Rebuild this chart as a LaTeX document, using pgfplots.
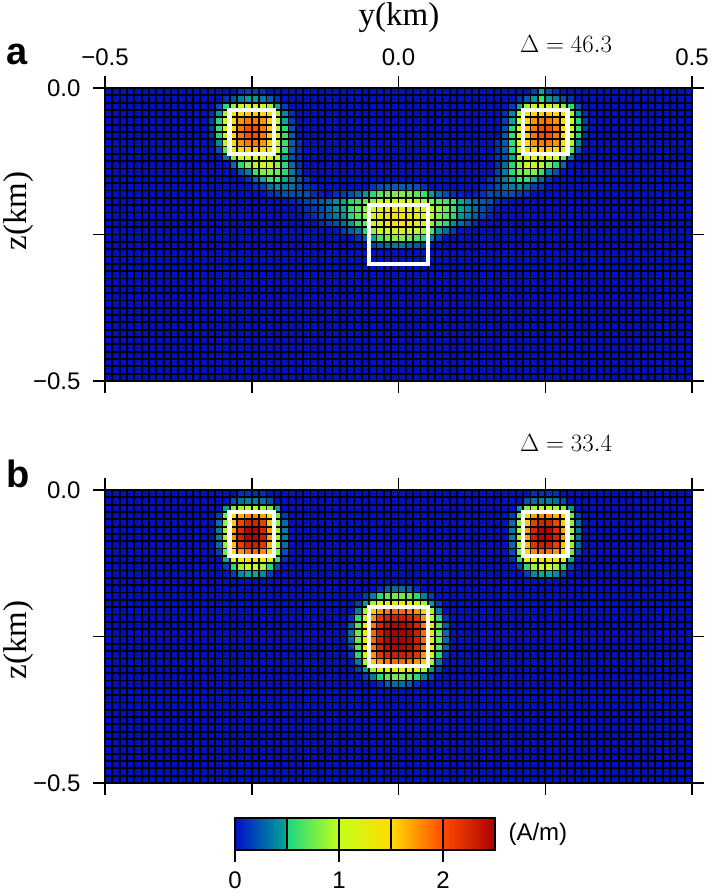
\documentclass[border=0pt]{standalone}
\usepackage{pgfplots}
\pgfplotsset{compat=1.18}
\usepackage{fontspec}
\setmainfont{Liberation Sans}
\newfontfamily\serif{Liberation Serif}
\definecolor{bgblue}{RGB}{0,15,200}
\definecolor{cA}{RGB}{0,15,200}
\definecolor{cB}{RGB}{0,170,150}
\definecolor{cC}{RGB}{25,215,130}
\definecolor{cD}{RGB}{195,255,25}
\definecolor{cE}{RGB}{255,220,0}
\definecolor{cF}{RGB}{255,75,0}
\definecolor{cG}{RGB}{170,0,0}
\pgfplotsset{
  colormap={gmtjet}{rgb255(0pt)=(0,15,200); rgb255(50pt)=(0,170,150); rgb255(51pt)=(25,215,130); rgb255(100pt)=(195,255,25); rgb255(150pt)=(255,220,0); rgb255(200pt)=(255,75,0); rgb255(250pt)=(170,0,0)},
  panel/.style={
    scale only axis, width=587pt, height=293pt,
    anchor=south west,
    xmin=-0.5, xmax=0.5, ymin=-0.5, ymax=0,
    xtick={-0.5,-0.25,0,0.25,0.5},
    ytick={-0.5,-0.25,0},
    yticklabels={−0.5,,0.0},
    minor x tick num=19, minor y tick num=19,
    grid=both,
    major grid style={black, line width=1.8pt},
    minor grid style={black, line width=1.8pt},
    minor tick length=0pt,
    major tick length=12pt,
    tick align=outside,
    xtick pos=both, ytick pos=both,
    yticklabel pos=left,
    major tick style={black, line width=1.5pt},
    axis line style={black, line width=2.2pt},
    axis on top,
    axis background/.style={fill=bgblue},
    colormap name=gmtjet,
    point meta min=0, point meta max=2.5,
    ticklabel style={font=\fontsize{24}{28}\selectfont},
    yticklabel style={xshift=-9pt},
  },
  overlay/.style={scale only axis, width=587pt, height=293pt, anchor=south west,
    xmin=-0.5, xmax=0.5, ymin=-0.5, ymax=0, hide axis},
  whitebox/.style={white, line width=4.5pt, line cap=rect, line join=miter, mark=none},
}
\newcommand{\cells}[4]{%
  \addplot[matrix plot*, mesh/cols=#1, point meta=explicit]
    table[row sep=\\, header=false, meta index=0,
      x expr={#2+0.0125*mod(\coordindex,#1)},
      y expr={#3-0.0125*floor(\coordindex/#1)}] {#4};}
\begin{document}
\begin{tikzpicture}
\useasboundingbox (0pt,0pt) rectangle (711pt,895pt);
% ---------------- panel a ----------------
\begin{axis}[panel, at={(105pt,514pt)}, xticklabel pos=upper, xticklabels={−0.5,,0.0,,0.5},
  xticklabel style={yshift=7pt}]
% left blob, cols 13..30, rows 0..14
\cells{18}{-0.33125}{-0.00625}{%
0\\0\\0\\0\\0\\0.1\\0.15\\0.15\\0.1\\0\\0\\0\\0\\0\\0\\0\\0\\0\\
0\\0\\0\\0.1\\0.2\\0.35\\0.45\\0.45\\0.35\\0.25\\0.1\\0\\0\\0\\0\\0\\0\\0\\
0\\0\\0.2\\0.55\\0.85\\1.05\\1.1\\1.1\\1.05\\0.9\\0.5\\0.15\\0\\0\\0\\0\\0\\0\\
0\\0.1\\0.45\\0.9\\1.3\\1.5\\1.55\\1.55\\1.5\\1.35\\0.9\\0.4\\0.1\\0\\0\\0\\0\\0\\
0\\0.15\\0.55\\1.0\\1.45\\1.75\\1.85\\1.85\\1.75\\1.5\\1.0\\0.5\\0.15\\0\\0\\0\\0\\0\\
0\\0.15\\0.6\\1.05\\1.5\\1.85\\2.0\\2.0\\1.85\\1.55\\1.05\\0.55\\0.2\\0\\0\\0\\0\\0\\
0\\0.1\\0.55\\1.05\\1.5\\1.85\\2.0\\2.0\\1.85\\1.55\\1.1\\0.6\\0.25\\0\\0\\0\\0\\0\\
0\\0\\0.4\\0.95\\1.45\\1.75\\1.85\\1.85\\1.75\\1.5\\1.1\\0.6\\0.25\\0.1\\0\\0\\0\\0\\
0\\0\\0.2\\0.7\\1.25\\1.5\\1.55\\1.55\\1.5\\1.4\\1.05\\0.55\\0.25\\0.1\\0\\0\\0\\0\\
0\\0\\0\\0.3\\0.75\\1.0\\1.1\\1.15\\1.15\\1.1\\0.95\\0.5\\0.2\\0.1\\0\\0\\0\\0\\
0\\0\\0\\0\\0.3\\0.55\\0.8\\0.95\\1.0\\1.0\\0.85\\0.55\\0.3\\0.1\\0\\0\\0\\0\\
0\\0\\0\\0\\0\\0.2\\0.35\\0.6\\0.8\\0.8\\0.75\\0.55\\0.35\\0.15\\0\\0\\0\\0\\
0\\0\\0\\0\\0\\0\\0.1\\0.3\\0.5\\0.6\\0.6\\0.5\\0.35\\0.2\\0.1\\0\\0\\0\\
0\\0\\0\\0\\0\\0\\0\\0.1\\0.15\\0.3\\0.4\\0.35\\0.3\\0.2\\0.1\\0.05\\0\\0\\
0\\0\\0\\0\\0\\0\\0\\0\\0\\0.1\\0.15\\0.2\\0.2\\0.2\\0.2\\0.1\\0.05\\0\\
}
% right blob, cols 49..66, rows 0..14
\cells{18}{0.11875}{-0.00625}{%
0\\0\\0\\0\\0\\0\\0\\0\\0\\0.15\\0.5\\0.2\\0.1\\0\\0\\0\\0\\0\\
0\\0\\0\\0\\0\\0\\0\\0.1\\0.25\\0.45\\0.6\\0.45\\0.35\\0.2\\0.1\\0\\0\\0\\
0\\0\\0\\0\\0\\0\\0.15\\0.5\\0.9\\1.05\\1.1\\1.1\\1.05\\0.85\\0.55\\0.2\\0\\0\\
0\\0\\0\\0\\0\\0.1\\0.4\\0.9\\1.35\\1.5\\1.55\\1.55\\1.5\\1.3\\0.9\\0.45\\0.1\\0\\
0\\0\\0\\0\\0\\0.15\\0.5\\1.0\\1.5\\1.75\\1.85\\1.85\\1.75\\1.45\\1.0\\0.55\\0.15\\0\\
0\\0\\0\\0\\0\\0.2\\0.55\\1.05\\1.55\\1.85\\2.0\\2.0\\1.85\\1.5\\1.05\\0.6\\0.15\\0\\
0\\0\\0\\0\\0\\0.25\\0.6\\1.1\\1.55\\1.85\\2.0\\2.0\\1.85\\1.5\\1.05\\0.55\\0.1\\0\\
0\\0\\0\\0\\0.1\\0.25\\0.6\\1.1\\1.5\\1.75\\1.85\\1.85\\1.75\\1.45\\0.95\\0.4\\0\\0\\
0\\0\\0\\0\\0.1\\0.25\\0.55\\1.05\\1.4\\1.5\\1.55\\1.55\\1.5\\1.25\\0.7\\0.2\\0\\0\\
0\\0\\0\\0\\0.1\\0.2\\0.5\\0.95\\1.1\\1.15\\1.15\\1.1\\1.0\\0.75\\0.3\\0\\0\\0\\
0\\0\\0\\0\\0.1\\0.3\\0.55\\0.85\\1.0\\1.0\\0.95\\0.8\\0.55\\0.3\\0\\0\\0\\0\\
0\\0\\0\\0\\0.15\\0.35\\0.55\\0.75\\0.8\\0.8\\0.6\\0.35\\0.2\\0\\0\\0\\0\\0\\
0\\0\\0\\0.1\\0.2\\0.35\\0.5\\0.6\\0.6\\0.5\\0.3\\0.1\\0\\0\\0\\0\\0\\0\\
0\\0\\0.05\\0.1\\0.2\\0.3\\0.35\\0.4\\0.3\\0.15\\0.1\\0\\0\\0\\0\\0\\0\\0\\
0\\0.05\\0.1\\0.2\\0.2\\0.2\\0.2\\0.15\\0.1\\0\\0\\0\\0\\0\\0\\0\\0\\0\\
}
% lens top, cols 31..48, rows 13..14
\cells{18}{-0.10625}{-0.16875}{%
0\\0\\0\\0\\0\\0.1\\0.2\\0.25\\0.25\\0.25\\0.25\\0.2\\0.1\\0\\0\\0\\0\\0\\
0.1\\0.15\\0.2\\0.3\\0.45\\0.55\\0.7\\0.75\\0.8\\0.8\\0.75\\0.7\\0.6\\0.45\\0.3\\0.2\\0.1\\0.05\\
}
% lens, cols 25..54, rows 15..21
\cells{30}{-0.18125}{-0.19375}{%
0.05\\0.1\\0.15\\0.2\\0.25\\0.3\\0.4\\0.5\\0.55\\0.6\\0.75\\0.85\\0.95\\1.0\\1.05\\1.05\\1.0\\0.95\\0.9\\0.8\\0.7\\0.65\\0.6\\0.5\\0.4\\0.3\\0.25\\0.2\\0.1\\0.05\\
0\\0.05\\0.1\\0.15\\0.2\\0.3\\0.4\\0.5\\0.6\\0.7\\0.85\\1.1\\1.2\\1.3\\1.35\\1.35\\1.3\\1.25\\1.15\\0.95\\0.85\\0.75\\0.6\\0.5\\0.4\\0.3\\0.2\\0.1\\0.05\\0\\
0\\0\\0.05\\0.1\\0.2\\0.25\\0.35\\0.45\\0.55\\0.7\\0.85\\1.15\\1.3\\1.4\\1.45\\1.45\\1.4\\1.3\\1.2\\0.95\\0.8\\0.7\\0.55\\0.45\\0.35\\0.25\\0.15\\0.05\\0\\0\\
0\\0\\0\\0\\0.1\\0.15\\0.2\\0.3\\0.45\\0.55\\0.75\\1.05\\1.2\\1.35\\1.4\\1.4\\1.35\\1.25\\1.1\\0.85\\0.7\\0.55\\0.4\\0.3\\0.2\\0.1\\0\\0\\0\\0\\
0\\0\\0\\0\\0\\0\\0\\0.15\\0.25\\0.35\\0.55\\0.85\\1.0\\1.1\\1.15\\1.15\\1.1\\1.0\\0.9\\0.65\\0.45\\0.3\\0.15\\0\\0\\0\\0\\0\\0\\0\\
0\\0\\0\\0\\0\\0\\0\\0\\0\\0.1\\0.25\\0.5\\0.65\\0.75\\0.8\\0.8\\0.75\\0.65\\0.55\\0.35\\0.15\\0\\0\\0\\0\\0\\0\\0\\0\\0\\
0\\0\\0\\0\\0\\0\\0\\0\\0\\0\\0\\0.15\\0.25\\0.3\\0.35\\0.35\\0.3\\0.25\\0.15\\0\\0\\0\\0\\0\\0\\0\\0\\0\\0\\0\\
}
\end{axis}
\begin{axis}[overlay, at={(105pt,514pt)}]
\addplot[whitebox] coordinates {(-0.2875,-0.0375) (-0.2125,-0.0375) (-0.2125,-0.1125) (-0.2875,-0.1125) (-0.2875,-0.0375)};
\addplot[whitebox] coordinates {(0.2125,-0.0375) (0.2875,-0.0375) (0.2875,-0.1125) (0.2125,-0.1125) (0.2125,-0.0375)};
\addplot[whitebox] coordinates {(-0.05,-0.2) (0.05,-0.2) (0.05,-0.3) (-0.05,-0.3) (-0.05,-0.2)};
\end{axis}
% ---------------- panel b ----------------
\begin{axis}[panel, at={(105pt,112pt)}, xticklabels={}]
% left blob, cols 15..24, rows 0..11
\cells{10}{-0.30625}{-0.00625}{%
0\\0\\0\\0.1\\0.1\\0.1\\0.1\\0\\0\\0\\
0\\0\\0.2\\0.3\\0.35\\0.35\\0.3\\0.2\\0\\0\\
0\\0.45\\0.8\\0.9\\0.95\\0.95\\0.9\\0.8\\0.45\\0\\
0.15\\0.75\\1.45\\1.65\\1.8\\1.8\\1.7\\1.5\\0.75\\0.15\\
0.3\\0.85\\1.55\\2.05\\2.25\\2.25\\2.1\\1.55\\0.85\\0.3\\
0.35\\0.9\\1.7\\2.2\\2.45\\2.45\\2.25\\1.7\\0.9\\0.35\\
0.35\\0.9\\1.75\\2.25\\2.45\\2.45\\2.3\\1.7\\0.9\\0.35\\
0.3\\0.85\\1.6\\2.1\\2.3\\2.3\\2.15\\1.6\\0.9\\0.3\\
0.15\\0.75\\1.45\\1.75\\1.9\\1.9\\1.8\\1.5\\0.8\\0.2\\
0\\0.5\\1.15\\1.3\\1.35\\1.35\\1.3\\1.15\\0.6\\0.1\\
0\\0.15\\0.55\\0.9\\1.0\\1.0\\0.9\\0.55\\0.2\\0\\
0\\0\\0.15\\0.4\\0.5\\0.5\\0.4\\0.15\\0\\0\\
}
% right blob, cols 55..64, rows 0..11
\cells{10}{0.19375}{-0.00625}{%
0\\0\\0\\0.1\\0.1\\0.1\\0.1\\0\\0\\0\\
0\\0\\0.2\\0.3\\0.35\\0.35\\0.3\\0.2\\0\\0\\
0\\0.45\\0.8\\0.9\\0.95\\0.95\\0.9\\0.8\\0.45\\0\\
0.15\\0.75\\1.5\\1.7\\1.8\\1.8\\1.65\\1.45\\0.75\\0.15\\
0.3\\0.85\\1.55\\2.1\\2.25\\2.25\\2.05\\1.55\\0.85\\0.3\\
0.35\\0.9\\1.7\\2.25\\2.45\\2.45\\2.2\\1.7\\0.9\\0.35\\
0.35\\0.9\\1.7\\2.3\\2.45\\2.45\\2.25\\1.75\\0.9\\0.35\\
0.3\\0.9\\1.6\\2.15\\2.3\\2.3\\2.1\\1.6\\0.85\\0.3\\
0.2\\0.8\\1.5\\1.8\\1.9\\1.9\\1.75\\1.45\\0.75\\0.15\\
0.1\\0.6\\1.15\\1.3\\1.35\\1.35\\1.3\\1.15\\0.5\\0\\
0\\0.2\\0.55\\0.9\\1.0\\1.0\\0.9\\0.55\\0.15\\0\\
0\\0\\0.15\\0.4\\0.5\\0.5\\0.4\\0.15\\0\\0\\
}
% central blob, cols 33..46, rows 13..26
\cells{14}{-0.08125}{-0.16875}{%
0\\0\\0\\0\\0.1\\0.25\\0.3\\0.3\\0.25\\0.1\\0\\0\\0\\0\\
0\\0\\0.15\\0.35\\0.55\\0.7\\0.75\\0.75\\0.7\\0.55\\0.35\\0.15\\0\\0\\
0\\0.15\\0.45\\0.9\\1.15\\1.25\\1.3\\1.3\\1.25\\1.15\\0.9\\0.45\\0.15\\0\\
0\\0.35\\0.9\\1.55\\1.75\\1.85\\1.9\\1.9\\1.85\\1.75\\1.55\\0.9\\0.35\\0\\
0.1\\0.55\\1.15\\1.75\\2.15\\2.25\\2.3\\2.3\\2.25\\2.15\\1.75\\1.15\\0.55\\0.1\\
0.25\\0.7\\1.25\\1.85\\2.25\\2.4\\2.45\\2.45\\2.4\\2.25\\1.85\\1.25\\0.7\\0.25\\
0.3\\0.75\\1.3\\1.9\\2.3\\2.45\\2.5\\2.5\\2.45\\2.3\\1.9\\1.3\\0.75\\0.3\\
0.3\\0.75\\1.3\\1.9\\2.3\\2.45\\2.5\\2.5\\2.45\\2.3\\1.9\\1.3\\0.75\\0.3\\
0.25\\0.7\\1.25\\1.85\\2.25\\2.4\\2.45\\2.45\\2.4\\2.25\\1.85\\1.25\\0.7\\0.25\\
0.1\\0.55\\1.15\\1.75\\2.15\\2.25\\2.3\\2.3\\2.25\\2.15\\1.75\\1.15\\0.55\\0.1\\
0\\0.35\\0.9\\1.55\\1.75\\1.85\\1.9\\1.9\\1.85\\1.75\\1.55\\0.9\\0.35\\0\\
0\\0.15\\0.45\\0.9\\1.15\\1.25\\1.3\\1.3\\1.25\\1.15\\0.9\\0.45\\0.15\\0\\
0\\0\\0.15\\0.35\\0.55\\0.7\\0.75\\0.75\\0.7\\0.55\\0.35\\0.15\\0\\0\\
0\\0\\0\\0\\0.1\\0.25\\0.3\\0.3\\0.25\\0.1\\0\\0\\0\\0\\
}
\end{axis}
\begin{axis}[overlay, at={(105pt,112pt)}]
\addplot[whitebox] coordinates {(-0.2875,-0.0375) (-0.2125,-0.0375) (-0.2125,-0.1125) (-0.2875,-0.1125) (-0.2875,-0.0375)};
\addplot[whitebox] coordinates {(0.2125,-0.0375) (0.2875,-0.0375) (0.2875,-0.1125) (0.2125,-0.1125) (0.2125,-0.0375)};
\addplot[whitebox] coordinates {(-0.05,-0.2) (0.05,-0.2) (0.05,-0.3) (-0.05,-0.3) (-0.05,-0.2)};
\end{axis}
% ---------------- colour scale ----------------
\begin{axis}[at={(235pt,45pt)}, anchor=south west, scale only axis,
  width=260pt, height=32pt, xmin=0, xmax=2.5, ymin=0, ymax=1,
  ytick=\empty, xtick={0,1,2}, xticklabels={0,1,2},
  xtick pos=left, xticklabel pos=left,
  tick align=outside, major tick length=12pt,
  major tick style={black, line width=1.5pt},
  extra x ticks={0.5,1,1.5,2}, extra x tick labels={},
  extra x tick style={grid=major, major tick length=0pt},
  major grid style={black, line width=1.5pt},
  axis line style={black, line width=2pt},
  axis on top,
  ticklabel style={font=\fontsize{24}{28}\selectfont},
  xticklabel style={yshift=-6pt}]
\shade[left color=cA, right color=cB] (axis cs:0,0) rectangle (axis cs:0.5,1);
\shade[left color=cC, right color=cD] (axis cs:0.5,0) rectangle (axis cs:1,1);
\shade[left color=cD, right color=cE] (axis cs:1,0) rectangle (axis cs:1.5,1);
\shade[left color=cE, right color=cF] (axis cs:1.5,0) rectangle (axis cs:2,1);
\shade[left color=cF, right color=cG] (axis cs:2,0) rectangle (axis cs:2.5,1);
\end{axis}
% ---------------- texts ----------------
\node[anchor=base, font=\serif\fontsize{33}{38}\selectfont] at (399pt,869pt) {y(km)};
\node[rotate=90, anchor=base, font=\serif\fontsize{33}{38}\selectfont] at (27pt,684pt) {z(km)};
\node[rotate=90, anchor=base, font=\serif\fontsize{33}{38}\selectfont] at (27pt,255pt) {z(km)};
\node[anchor=base west, font=\bfseries\fontsize{38}{44}\selectfont] at (3pt,830pt) {a};
\node[anchor=base west, font=\bfseries\fontsize{38}{44}\selectfont] at (3pt,407pt) {b};
\node[anchor=base] at (566pt,842pt) {\fontsize{24}{28}\selectfont$\Delta = 46.3$};
\node[anchor=base] at (566pt,443pt) {\fontsize{24}{28}\selectfont$\Delta = 33.4$};
\node[anchor=west, font=\fontsize{24}{28}\selectfont] at (505pt,61pt) {(A/m)};
\end{tikzpicture}
\end{document}
